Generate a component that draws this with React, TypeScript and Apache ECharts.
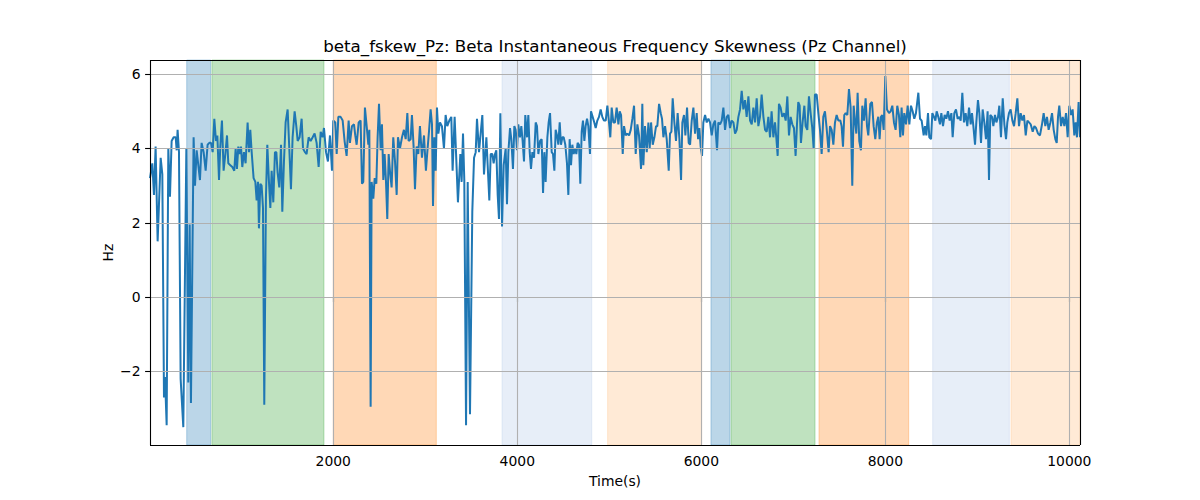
import React, { useEffect, useRef } from "react";
import * as echarts from "echarts";

const chartTitle = "beta_fskew_Pz: Beta Instantaneous Frequency Skewness (Pz Channel)";
const xLabel = "Time(s)";
const yLabel = "Hz";

const xTicks = [2000, 4000, 6000, 8000, 10000];
const yTicks = [-2, 0, 2, 4, 6];
const xRange = [8, 10116];
const yRange = [-3.98, 6.38];

// [start, end, stage]
const spans: [number, number, string][] = [
  [407, 667, "s1"],
  [681, 1899, "s2"],
  [2000, 3120, "s3"],
  [3834, 4809, "s4"],
  [4982, 6004, "s5"],
  [6105, 6312, "s1"],
  [6323, 7236, "s2"],
  [7279, 8254, "s3"],
  [8515, 9348, "s4"],
  [9366, 10116, "s5"],
];

const seg1: [number, number][] = [
  [8, 3.2], [33, 3.6], [51, 2.75], [69, 4.05], [91, 1.5], [124, 3.75], [142, 3.3], [160, -2.7],
  [171, -2.15], [189, -3.45], [207, 4.0], [225, 2.7], [243, 4.2], [265, 4.3], [287, 4.3], [298, 3.95],
  [308, 4.5], [323, 3.9], [341, -2.2], [370, -3.5], [403, 4.0], [424, -2.3], [439, 1.95], [453, -2.85],
  [482, 4.3], [497, 3.0], [515, 3.95], [533, 3.55], [551, 3.15], [569, 4.15], [591, 3.9], [613, 3.4],
  [634, 4.1], [653, 4.15], [671, 4.15], [689, 3.9], [707, 4.8], [725, 4.2], [740, 4.35], [758, 3.15],
  [772, 4.05], [790, 4.75], [808, 3.4], [827, 3.85], [845, 4.35], [859, 3.6], [881, 3.55], [903, 3.5],
  [924, 3.4], [939, 4.0], [953, 3.45], [968, 4.05], [982, 3.85], [997, 4.05], [1011, 3.5], [1029, 3.9],
  [1047, 3.6], [1069, 4.7], [1084, 3.9], [1098, 4.5], [1113, 3.9], [1134, 3.2], [1153, 3.1], [1167, 2.6],
  [1182, 3.1], [1192, 1.85], [1207, 3.05], [1221, 3.0], [1236, 2.4], [1250, -2.9], [1268, 2.65], [1283, 4.1],
  [1301, 3.1], [1316, 2.4], [1330, 3.4], [1348, 2.55], [1366, 3.9], [1381, 3.9], [1395, 3.35], [1413, 2.95],
  [1432, 4.1], [1446, 2.3], [1464, 3.65], [1482, 4.7], [1504, 5.05], [1522, 4.0], [1540, 2.9], [1558, 4.3],
  [1580, 5.0], [1598, 4.6], [1613, 4.2], [1634, 4.3], [1656, 4.8], [1671, 4.0], [1692, 3.9],
];

const seg2: [number, number][] = [
  [1710, 3.85], [1732, 4.3], [1754, 4.2], [1776, 4.3], [1797, 4.4], [1819, 4.15], [1841, 3.5], [1863, 4.45],
  [1884, 4.3], [1899, 4.55], [1921, 3.9], [1942, 3.65], [1964, 4.35], [1986, 3.4], [2000, 4.75], [2022, 4.7],
  [2037, 3.85], [2055, 4.85], [2080, 4.85], [2102, 4.75], [2123, 4.2], [2145, 3.8], [2167, 4.75], [2181, 4.15],
  [2203, 4.6], [2225, 4.65], [2239, 4.35], [2254, 4.1], [2276, 4.7], [2297, 4.75], [2312, 3.05], [2326, 3.1],
  [2344, 5.1], [2363, 4.6], [2381, 4.1], [2392, 4.5], [2406, -2.95], [2417, 3.1], [2435, 2.65], [2450, 3.2],
  [2468, 3.05], [2482, 4.3], [2497, 5.2], [2515, 3.95], [2529, 4.65], [2544, 3.15], [2558, 3.85], [2573, 3.1],
  [2587, 2.1], [2602, 3.85], [2616, 3.4], [2634, 2.95], [2652, 4.3], [2671, 3.65], [2689, 2.75], [2703, 4.3],
  [2725, 4.0], [2747, 4.3], [2768, 4.5], [2787, 4.25], [2805, 4.95], [2819, 4.2], [2841, 4.25], [2855, 4.9],
  [2873, 4.05], [2888, 2.9], [2906, 4.05], [2924, 3.85], [2942, 4.6], [2964, 3.75], [2986, 4.35], [3007, 3.4],
  [3022, 3.9], [3040, 4.45], [3058, 5.05], [3073, 4.65], [3084, 2.45], [3098, 4.3], [3113, 3.4], [3127, 5.1],
  [3142, 4.4], [3160, 4.7], [3181, 4.6], [3203, 4.0], [3221, 4.9], [3239, 4.6], [3261, 4.75], [3283, 4.85],
  [3297, 3.4], [3319, 4.85], [3341, 3.45], [3355, 2.55],
];

const seg3: [number, number][] = [
  [3381, 3.85], [3395, 3.1], [3410, 4.4], [3424, 3.15], [3443, -3.45], [3461, 3.1], [3486, -3.15], [3511, 2.3],
  [3530, 3.75], [3548, 3.9], [3562, 4.8], [3584, 3.9], [3598, 4.3], [3620, 4.9], [3638, 3.3], [3664, 4.3],
  [3678, 3.55], [3696, 2.6], [3711, 3.85], [3729, 3.85], [3743, 3.6], [3758, 3.85], [3772, 3.95], [3787, 2.75],
  [3801, 2.1], [3816, 4.95], [3834, 1.9], [3852, 3.55], [3874, 4.0], [3888, 2.5], [3903, 3.9], [3921, 4.55],
  [3935, 4.25], [3953, 3.45], [3968, 4.6], [3982, 4.5], [3997, 3.95], [4011, 4.65], [4029, 4.3], [4044, 4.6],
  [4058, 4.2], [4073, 3.65], [4087, 4.9], [4106, 4.3], [4120, 4.9], [4135, 3.9], [4149, 3.45], [4164, 3.9],
  [4182, 3.75], [4200, 4.7], [4214, 4.6], [4229, 3.85], [4247, 4.2], [4265, 4.25], [4280, 2.8], [4294, 3.9],
  [4308, 3.1], [4327, 4.3], [4341, 4.7], [4356, 4.95], [4374, 3.9], [4388, 3.85], [4403, 3.4], [4417, 4.5],
  [4432, 4.35], [4446, 4.1], [4461, 4.7], [4475, 4.1], [4490, 4.3], [4504, 4.3], [4522, 4.1], [4540, 3.6],
  [4555, 2.75], [4569, 4.25], [4584, 3.55], [4598, 4.1], [4613, 3.85], [4627, 4.0], [4642, 3.85], [4656, 4.15],
  [4671, 4.1], [4685, 3.05], [4700, 4.45], [4714, 4.75], [4729, 4.2], [4743, 4.6], [4758, 4.8], [4772, 4.6],
  [4790, 3.85], [4801, 5.0], [4819, 4.85], [4837, 4.7], [4852, 4.55], [4870, 4.75], [4888, 4.85], [4906, 5.05],
  [4924, 4.85], [4942, 4.75], [4961, 4.75], [4979, 5.15], [4997, 4.7], [5011, 4.3], [5026, 5.1], [5044, 4.7],
  [5062, 4.7],
];

const seg4: [number, number][] = [
  [5080, 5.1], [5099, 4.65], [5113, 5.0], [5128, 4.9], [5146, 3.85], [5160, 4.6], [5178, 4.35], [5196, 4.4],
  [5215, 4.35], [5233, 4.5], [5251, 4.8], [5269, 5.15], [5287, 3.85], [5305, 4.65], [5323, 4.35], [5345, 3.45],
  [5359, 5.2], [5370, 3.55], [5388, 4.6], [5407, 3.9], [5425, 4.7], [5439, 4.0], [5454, 4.7], [5472, 4.1],
  [5490, 4.3], [5508, 4.6], [5522, 4.6], [5541, 5.2], [5559, 4.95], [5573, 4.8], [5588, 4.3], [5606, 4.6],
  [5624, 4.25], [5646, 3.4], [5660, 4.4], [5675, 4.45], [5689, 5.35], [5707, 4.7], [5725, 4.2], [5743, 4.95],
  [5762, 4.25], [5780, 3.15], [5794, 4.7], [5812, 4.9], [5827, 4.35], [5845, 5.1], [5863, 4.15], [5878, 4.1],
  [5896, 4.75], [5914, 5.1], [5932, 4.4], [5950, 4.95], [5965, 4.25], [5979, 4.55], [5993, 4.05], [6008, 3.8],
  [6022, 4.7], [6041, 4.9], [6059, 4.7], [6077, 4.8], [6095, 4.7], [6113, 4.35], [6131, 4.65], [6149, 4.75],
  [6171, 3.95], [6185, 4.7], [6204, 4.65], [6222, 4.75], [6240, 5.1], [6258, 4.5], [6276, 4.85], [6294, 4.9],
  [6312, 4.55], [6330, 4.75], [6349, 4.7], [6367, 4.4], [6385, 4.5], [6403, 4.85], [6421, 5.05], [6439, 5.55],
  [6457, 5.05], [6475, 5.3], [6493, 4.85], [6512, 5.4], [6530, 4.75], [6548, 4.65], [6566, 5.1], [6584, 4.7],
  [6602, 5.35], [6620, 4.6], [6638, 4.85], [6656, 5.45], [6675, 4.85], [6693, 4.5], [6711, 4.45], [6729, 4.85],
  [6747, 4.3],
];

const seg5: [number, number][] = [
  [6764, 5.0], [6783, 4.3], [6801, 4.7], [6815, 4.3], [6830, 3.8], [6844, 5.2], [6862, 5.1], [6880, 4.85],
  [6899, 4.95], [6917, 4.75], [6935, 5.4], [6953, 4.35], [6971, 4.85], [6989, 4.65], [7007, 4.55], [7025, 3.8],
  [7040, 4.65], [7054, 5.25], [7069, 5.15], [7083, 4.15], [7101, 4.7], [7120, 5.15], [7134, 4.6], [7152, 4.5],
  [7170, 5.4], [7188, 4.95], [7206, 4.55], [7221, 4.0], [7235, 5.45], [7254, 5.45], [7272, 4.95], [7290, 4.5],
  [7308, 3.85], [7326, 4.85], [7344, 5.0], [7362, 4.55], [7384, 3.9], [7399, 4.6], [7417, 4.5], [7435, 4.1],
  [7453, 4.7], [7471, 4.9], [7489, 4.75], [7511, 4.75], [7525, 4.6], [7540, 4.05], [7554, 4.9], [7569, 4.95],
  [7587, 4.9], [7605, 5.6], [7623, 5.1], [7641, 3.0], [7656, 5.15], [7670, 4.75], [7685, 4.4], [7699, 5.5],
  [7717, 4.2], [7735, 3.95], [7750, 5.15], [7768, 4.75], [7786, 5.35], [7801, 4.6], [7815, 4.35], [7837, 5.2],
  [7855, 5.25], [7873, 4.6], [7891, 4.25], [7909, 4.7], [7924, 4.85], [7938, 4.25], [7953, 4.85], [7967, 4.9],
  [7982, 4.5], [8000, 5.95], [8018, 5.05], [8040, 4.95], [8058, 5.0], [8076, 5.15], [8094, 4.7], [8112, 4.5],
  [8130, 5.15], [8148, 4.9], [8163, 4.3], [8177, 5.1], [8192, 4.35], [8206, 4.95], [8225, 4.65], [8243, 5.15],
  [8261, 4.65], [8279, 5.15], [8297, 5.0], [8315, 4.8], [8333, 4.95], [8359, 5.5], [8377, 4.8], [8395, 4.75],
  [8417, 4.35], [8431, 4.6],
];

const seg6: [number, number][] = [
  [8446, 4.35], [8464, 4.95], [8478, 4.3], [8497, 4.25], [8511, 4.95], [8529, 4.85], [8544, 4.75], [8558, 5.0],
  [8576, 4.85], [8594, 4.65], [8609, 4.95], [8627, 4.6], [8645, 4.9], [8663, 4.8], [8681, 5.0], [8699, 4.75],
  [8718, 4.95], [8732, 4.3], [8750, 4.95], [8768, 5.05], [8786, 4.8], [8805, 4.85], [8819, 4.75], [8837, 5.5],
  [8855, 4.7], [8873, 4.95], [8891, 4.6], [8910, 5.1], [8928, 4.65], [8942, 4.95], [8957, 4.6], [8975, 4.1],
  [8989, 4.7], [9007, 5.3], [9022, 4.95], [9040, 4.15], [9058, 5.05], [9076, 4.7], [9094, 4.25], [9112, 5.0],
  [9127, 3.15], [9141, 4.9], [9160, 4.85], [9174, 4.6], [9192, 4.9], [9207, 4.7], [9225, 4.85], [9239, 5.15],
  [9257, 4.3], [9276, 5.35], [9294, 4.65], [9312, 4.25], [9326, 4.7], [9344, 4.95], [9362, 5.05], [9381, 4.75],
  [9399, 4.6], [9417, 4.95], [9435, 5.35], [9453, 4.6], [9471, 4.95], [9489, 4.75], [9507, 4.9], [9526, 4.35],
  [9544, 4.75], [9562, 4.7], [9580, 4.65], [9602, 4.45], [9620, 4.6], [9638, 4.55], [9660, 4.4], [9681, 4.35],
  [9703, 4.65], [9721, 4.95], [9739, 4.6], [9757, 4.85], [9775, 4.5], [9794, 4.7], [9812, 4.95], [9830, 4.5],
  [9848, 4.25], [9863, 4.15], [9877, 4.85], [9891, 5.15], [9910, 4.6], [9928, 4.85], [9946, 4.6], [9964, 4.95],
  [9982, 4.3], [10000, 5.15], [10018, 4.9], [10036, 5.05], [10054, 4.35], [10069, 4.7], [10083, 4.3], [10101, 5.25],
  [10116, 4.3],
];

const stageColors: Record<string, string> = {
  s1: "rgba(31,119,180,0.3)",
  s2: "rgba(44,160,44,0.3)",
  s3: "rgba(255,127,14,0.3)",
  s4: "rgba(174,199,232,0.3)",
  s5: "rgba(255,187,120,0.3)",
};

const FONT = "DejaVu Sans";

function fmtNum(v: number): string {
  return v < 0 ? "\u2212" + Math.abs(v) : String(v);
}

export default function App() {
  const ref = useRef<HTMLDivElement>(null);
  useEffect(() => {
    document.body.style.margin = "0";
    if (!ref.current) return;
    const chart = echarts.init(ref.current, undefined, { renderer: "svg" });
    const lineData = [...seg1, ...seg2, ...seg3, ...seg4, ...seg5, ...seg6];
    const gridLeft = 150, gridRight = 1080, gridTop = 60, gridBottom = 445;
    chart.setOption({
      animation: false,
      backgroundColor: "#ffffff",
      textStyle: { fontFamily: FONT },
      grid: {
        left: gridLeft,
        top: gridTop,
        width: gridRight - gridLeft,
        height: gridBottom - gridTop,
        show: false,
        containLabel: false,
      },
      xAxis: {
        type: "value",
        min: xRange[0],
        max: xRange[1],
        axisLine: { show: false },
        splitLine: { show: false },
        axisTick: {
          show: true,
          customValues: xTicks,
          length: 4.9,
          inside: false,
          lineStyle: { color: "#000", width: 1.1 },
        },
        axisLabel: {
          show: true,
          customValues: xTicks,
          formatter: (v: number) => fmtNum(v),
          fontFamily: FONT,
          fontSize: 13.9,
          color: "#000",
          margin: 9,
        },
      },
      yAxis: {
        type: "value",
        min: yRange[0],
        max: yRange[1],
        axisLine: { show: false },
        splitLine: { show: false },
        axisTick: {
          show: true,
          customValues: yTicks,
          length: 4.9,
          inside: false,
          lineStyle: { color: "#000", width: 1.1 },
        },
        axisLabel: {
          show: true,
          customValues: yTicks,
          formatter: (v: number) => fmtNum(v),
          fontFamily: FONT,
          fontSize: 13.9,
          color: "#000",
          margin: 9.5,
        },
      },
      graphic: [
        {
          type: "text",
          x: (gridLeft + gridRight) / 2,
          y: 46,
          style: {
            text: chartTitle,
            font: `16.7px "${FONT}"`,
            fill: "#000",
            textAlign: "center",
            textVerticalAlign: "middle",
          },
        },
        {
          type: "text",
          x: (gridLeft + gridRight) / 2,
          y: 481,
          style: {
            text: xLabel,
            font: `13.9px "${FONT}"`,
            fill: "#000",
            textAlign: "center",
            textVerticalAlign: "middle",
          },
        },
        {
          type: "text",
          x: 108,
          y: (gridTop + gridBottom) / 2,
          rotation: Math.PI / 2,
          style: {
            text: yLabel,
            font: `13.9px "${FONT}"`,
            fill: "#000",
            textAlign: "center",
            textVerticalAlign: "middle",
          },
        },
      ],
      series: [
        {
          type: "line",
          data: [],
          z: 1,
          silent: true,
          markArea: {
            silent: true,
            data: spans.map((s) => [
              {
                xAxis: s[0],
                itemStyle: {
                  color: stageColors[s[2]],
                  borderColor: stageColors[s[2]],
                  borderWidth: 1,
                },
              },
              { xAxis: s[1] },
            ]),
          },
        },
        {
          type: "line",
          data: [],
          z: 2,
          silent: true,
          markLine: {
            silent: true,
            symbol: ["none", "none"],
            label: { show: false },
            lineStyle: { color: "#b0b0b0", width: 1.1, type: "solid" },
            emphasis: { disabled: true },
            data: [
              ...xTicks.map((v) => ({ xAxis: v })),
              ...yTicks.map((v) => ({ yAxis: v })),
            ],
          },
        },
        {
          type: "line",
          data: lineData,
          z: 3,
          showSymbol: false,
          symbol: "none",
          lineStyle: { color: "#1f77b4", width: 2 },
          itemStyle: { color: "#1f77b4" },
          silent: true,
        },
        {
          type: "line",
          data: [],
          z: 4,
          silent: true,
          clip: false,
          markLine: {
            silent: true,
            symbol: ["none", "none"],
            label: { show: false },
            lineStyle: { color: "#000000", width: 1.1, type: "solid" },
            emphasis: { disabled: true },
            data: [
              { xAxis: xRange[0] },
              { xAxis: xRange[1] },
              { yAxis: yRange[0] },
              { yAxis: yRange[1] },
            ],
          },
        },
      ],
    });
    return () => chart.dispose();
  }, []);
  return <div ref={ref} style={{ width: 1200, height: 500 }} />;
}
